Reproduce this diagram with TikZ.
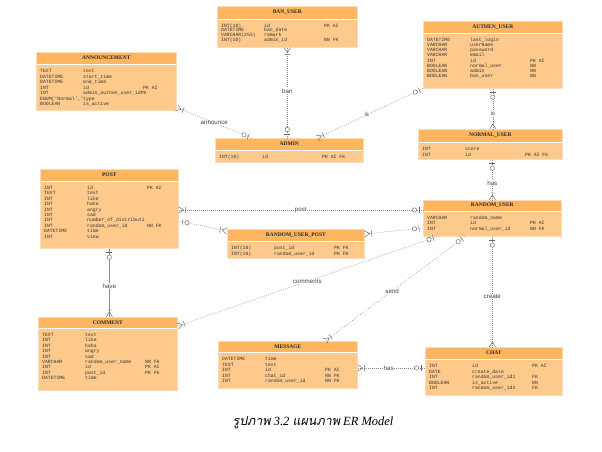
\documentclass[tikz,border=0pt]{standalone}
\usepackage{fontspec}
\setmainfont{Liberation Serif}
\setsansfont{Liberation Sans}
\setmonofont{Liberation Mono}
\newfontfamily\thaifont[Script=Thai,FakeSlant=0.2]{Loma}
\usetikzlibrary{calc,decorations.markings}

\definecolor{headcol}{HTML}{FDB560}
\definecolor{bodycol}{HTML}{FECA8C}
\definecolor{edgecol}{HTML}{F9DDB8}
\definecolor{relcol}{HTML}{8A8A8A}

\tikzset{
  entbox/.style={anchor=north west, fill=bodycol, draw=edgecol, line width=0.6pt, inner sep=0pt},
  headfill/.style={fill=headcol},
  enthead/.style={font=\bfseries\fontsize{5.5}{6}\selectfont, text=black!85, inner sep=0pt},
  entrows/.style={anchor=north west, inner sep=0pt, text=black!80, font=\ttfamily},
  tipline/.style={solid, draw=relcol!70!black, line width=0.45pt},
  rel/.style={draw=relcol, line width=0.45pt, dash pattern=on 0.8pt off 1.2pt},
  lbl/.style={fill=white, inner sep=0.6pt, text=black!75, font=\sffamily\fontsize{6.2}{7}\selectfont},
  crowstart/.style={postaction={decorate, decoration={markings, mark=at position 0 with
    {\draw[tipline] (0,3.2pt) -- (5pt,0) -- (0,-3.2pt) (7pt,3pt) -- (7pt,-3pt);}}}},
  crowend/.style={postaction={decorate, decoration={markings, mark=at position 1 with
    {\draw[tipline] (0,3.2pt) -- (-5pt,0) -- (0,-3.2pt) (-7pt,3pt) -- (-7pt,-3pt);}}}},
  onestart/.style={postaction={decorate, decoration={markings, mark=at position 0 with
    {\draw[tipline] (4pt,3pt) -- (4pt,-3pt); \draw[tipline, fill=white] (8.5pt,0) circle (2.2pt);}}}},
  oneend/.style={postaction={decorate, decoration={markings, mark=at position 1 with
    {\draw[tipline] (-4pt,3pt) -- (-4pt,-3pt); \draw[tipline, fill=white] (-8.5pt,0) circle (2.2pt);}}}}
}

% entity box: [row pitch]{name}{top left}{width}{height}{header height}{title}{rows}
\newcommand{\erentity}[8][5.4]{%
  \node[entbox, minimum width=#4pt, minimum height=#5pt] (#2) at #3 {};
  \fill[headfill] (#2.north west) rectangle ([yshift=-#6pt]#2.north east);
  \draw[white, line width=0.6pt] ([yshift=-#6pt]#2.north west) -- ([yshift=-#6pt]#2.north east);
  \draw[edgecol, line width=0.6pt] (#2.north west) rectangle (#2.south east);
  \node[enthead] (#2-title) at ([yshift={-0.5*#6pt}]#2.north) {#7};
  \node[entrows] (#2-rows) at ([xshift=4pt, yshift={-(#6+4.5)*1pt}]#2.north west)
    {\fontsize{4.8}{#1}\selectfont\hyphenpenalty10000\exhyphenpenalty10000
     \begin{tabular}{@{}p{43pt}@{}p{60pt}@{}l@{}}#8\end{tabular}};
}

\begin{document}
\begin{tikzpicture}[x=1pt, y=-1pt]
  \fill[white] (0,0) rectangle (602,452);
  \useasboundingbox (0,0) rectangle (602,452);

  % entities
  \erentity[4.4]{banuser}{(217,6)}{140}{41}{13}{BAN\_USER}{%
    INT(10) & id & PK AI\\
    DATETIME & ban\_date & \\
    VARCHAR(255) & remark & \\
    INT(10) & admin\_id & NN FK}
  \erentity[5.2]{authen}{(423,21)}{139}{67}{12}{AUTHEN\_USER}{%
    DATETIME & last\_login & \\
    VARCHAR & userName & \\
    VARCHAR & password & \\
    VARCHAR & email & \\
    INT & id & PK AI\\
    BOOLEAN & normal\_user & NN\\
    BOOLEAN & admin & NN\\
    BOOLEAN & ban\_user & NN}
  \erentity[5.5]{announcement}{(36,52)}{140}{58}{12}{ANNOUNCEMENT}{%
    TEXT & text & \\
    DATETIME & start\_time & \\
    DATETIME & end\_time & \\
    INT & id & PK AI\\
    INT & admin\_authen\_user\_idPK & \\
    ENUM('Normal',' & type & \\
    BOOLEAN & is\_active & }
  \erentity{admin}{(215,138)}{148}{24}{12}{ADMIN}{%
    INT(10) & id & PK AI FK}
  \erentity[5.6]{normal}{(418,129)}{144}{30}{13}{NORMAL\_USER}{%
    INT & score & \\
    INT & id & PK AI FK}
  \erentity{post}{(40,169)}{138}{79}{12}{POST}{%
    INT & id & PK AI\\
    TEXT & text & \\
    INT & like & \\
    INT & haha & \\
    INT & angry & \\
    INT & sad & \\
    INT & number\_of\_distributi & \\
    INT & random\_user\_id & NN FK\\
    DATETIME & time & \\
    INT & view & }
  \erentity{random}{(423,200)}{138}{36}{11}{RANDOM\_USER}{%
    VARCHAR & random\_name & \\
    INT & id & PK AI\\
    INT & normal\_user\_id & NN FK}
  \erentity[5.8]{rup}{(227,229)}{137}{29}{12}{RANDOM\_USER\_POST}{%
    INT(10) & post\_id & PK FK\\
    INT(10) & random\_user\_id & PK FK}
  \erentity{comment}{(38,317)}{139}{73}{11}{COMMENT}{%
    TEXT & text & \\
    INT & like & \\
    INT & haha & \\
    INT & angry & \\
    INT & sad & \\
    VARCHAR & random\_user\_name & NN FK\\
    INT & id & PK AI\\
    INT & post\_id & PK FK\\
    DATETIME & time & }
  \erentity[5.5]{message}{(218,341)}{139}{47}{11}{MESSAGE}{%
    DATETIME & time & \\
    TEXT & text & \\
    INT & id & PK AI\\
    INT & chat\_id & NN FK\\
    INT & random\_user\_id & NN FK}
  \erentity[5.5]{chat}{(425,347)}{137}{48}{12}{CHAT}{%
    INT & id & PK AI\\
    DATE & create\_date & \\
    INT & random\_user\_id1 & FK\\
    BOOLEAN & is\_active & NN\\
    INT & random\_user\_id2 & FK}

  % relations
  \draw[rel, crowstart, oneend] (banuser.south) -- node[lbl, pos=0.48] {ban} (banuser.south |- admin.north);
  \draw[rel, crowstart, oneend] ([yshift=3pt]announcement.south east) -- node[lbl] {announce} ([xshift=37pt]admin.north west);
  \draw[rel, onestart, crowend] (authen.south west) -- node[lbl, pos=0.53] {is} ([xshift=102pt]admin.north west);
  \draw[rel, onestart, crowend] (authen.south) -- node[lbl, pos=0.6] {is} (authen.south |- normal.north);
  \draw[rel, onestart, crowend] (random.north |- normal.south) -- node[lbl, pos=0.58] {has} (random.north);
  \draw[rel, crowstart, oneend] (post.east |- 0,210) -- node[lbl] {post} (random.west |- 0,210);
  \draw[rel, onestart, crowend] (post.east |- 0,221) -- ([yshift=-2pt]rup.north west);
  \draw[rel, crowstart, oneend] (rup.east |- 0,234) -- (random.west |- 0,228);
  \draw[draw=relcol, line width=0.45pt, onestart, crowend] (post.south) -- node[lbl, pos=0.55] {have} (post.south |- comment.north);
  \draw[rel, onestart, crowend] ([xshift=14pt]random.south west) -- node[lbl] {comments} ([yshift=-9pt]comment.north east);
  \draw[rel, onestart, crowend] ([xshift=42pt]random.south west) -- node[lbl, pos=0.52] {send} ([xshift=107pt]message.north west);
  \draw[rel, onestart, crowend] (random.south) -- node[lbl, pos=0.54] {create} (random.south |- chat.north);
  \draw[rel, crowstart, oneend] (message.east |- 0,368) -- node[lbl, pos=0.46] {has} (chat.west |- 0,368);

  % caption
  \node (caption) at (313,423) {\fontsize{12.5}{14}\selectfont{\thaifont รูปภาพ} \textit{3.2} {\thaifont แผนภาพ} \textit{ER Model}};
\end{tikzpicture}
\end{document}
